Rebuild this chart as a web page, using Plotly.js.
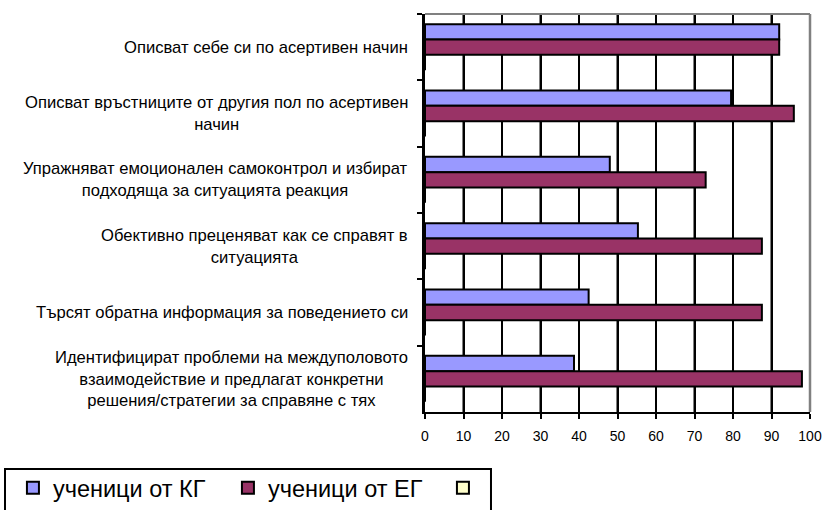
<!DOCTYPE html>
<html>
<head>
<meta charset="utf-8">
<script src="https://cdn.plot.ly/plotly-3.0.1.min.js"></script>
<style>
  html, body { margin: 0; padding: 0; background: #ffffff; }
  #chart { width: 824px; height: 510px; }
</style>
</head>
<body>
<div id="chart"></div>
<script>
// Categories (top to bottom)
var categories = [
  "Описват себе си по асертивен начин",
  "Описват връстниците от другия пол по асертивен<br>начин",
  "Упражняват емоционален самоконтрол и избират<br>подходяща за ситуацията реакция",
  "Обективно преценяват как се справят в<br>ситуацията",
  "Търсят обратна информация за поведението си",
  "Идентифицират проблеми на междуполовото<br>взаимодействие и предлагат конкретни<br>решения/стратегии за справяне с тях"
];
var seriesNames = ["ученици от КГ", "ученици от ЕГ", " "];
var valuesKG = [92, 79.5, 48, 55.3, 42.5, 38.7];
var valuesEG = [92, 95.8, 72.9, 87.5, 87.5, 97.9];
var valuesThird = [0, 0, 0, 0, 0, 0];
var xTickValues = [0, 10, 20, 30, 40, 50, 60, 70, 80, 90, 100];

var FONT = "Liberation Sans, Arial, sans-serif";
var colors = ["#9999FF", "#993366", "#FFFFCC"];
var allValues = [valuesKG, valuesEG, valuesThird];

var traces = allValues.map(function (vals, i) {
  return {
    type: "bar",
    orientation: "h",
    name: seriesNames[i],
    x: vals,
    y: categories,
    marker: { color: colors[i], line: { color: "#000000", width: 2 } },
    hoverinfo: "x+name"
  };
});

var annotations = categories.map(function (c) {
  return {
    xref: "paper", yref: "y",
    x: 0, y: c,
    xanchor: "right", yanchor: "middle",
    xshift: -15,
    text: c,
    align: "center",
    showarrow: false,
    font: { family: FONT, size: 16.6, color: "#000000" }
  };
});

// vertical gridlines drawn in data coordinates (inner tick values)
var gridShapes = xTickValues.filter(function (v) { return v > 0 && v < 100; }).map(function (v) {
  return { type: "line", xref: "x", yref: "paper", x0: v, x1: v, y0: 0, y1: 1,
           line: { color: "#000000", width: 2 }, layer: "below" };
});

var layout = {
  width: 824,
  height: 510,
  margin: { l: 425, r: 14, t: 14, b: 98, autoexpand: false },
  paper_bgcolor: "#ffffff",
  plot_bgcolor: "rgba(0,0,0,0)",
  barmode: "group",
  bargap: 0.306,
  bargroupgap: 0,
  font: { family: FONT, color: "#000000" },
  xaxis: {
    range: [0, 100],
    tickvals: xTickValues,
    ticktext: xTickValues.map(String),
    showgrid: true,
    gridcolor: "#000000",
    gridwidth: 2,
    zeroline: false,
    showline: true,
    linecolor: "#000000",
    linewidth: 2,
    ticks: "outside",
    ticklen: 5,
    tickwidth: 2,
    tickcolor: "#000000",
    ticklabelstandoff: 5,
    tickfont: { family: FONT, size: 14, color: "#000000" },
    fixedrange: true
  },
  yaxis: {
    type: "category",
    categoryorder: "array",
    categoryarray: categories,
    autorange: "reversed",
    showticklabels: false,
    showgrid: false,
    zeroline: false,
    showline: true,
    linecolor: "#000000",
    linewidth: 3,
    ticks: "outside",
    tickson: "boundaries",
    ticklen: 5,
    tickwidth: 2,
    tickcolor: "#000000",
    fixedrange: true
  },
  shapes: gridShapes.concat([
    { type: "line", xref: "paper", yref: "paper", x0: 0, x1: 1, y0: 1, y1: 1,
      line: { color: "#808080", width: 2 }, layer: "above" },
    { type: "line", xref: "paper", yref: "paper", x0: 1, x1: 1, y0: 0, y1: 1,
      line: { color: "#808080", width: 2.5 }, layer: "above" },
    { type: "rect", xref: "paper", yref: "paper", x0: -1.0909, x1: 0.1714, y0: -0.1432, y1: -0.3,
      line: { color: "#000000", width: 2 }, fillcolor: "rgba(0,0,0,0)", layer: "below" }
  ]),
  annotations: annotations,
  showlegend: true,
  legend: {
    orientation: "h",
    x: -1.0703, xanchor: "left",
    y: -0.1357, yanchor: "top",
    xref: "paper", yref: "paper",
    bgcolor: "rgba(0,0,0,0)",
    borderwidth: 0,
    font: { family: FONT, size: 23.5, color: "#000000" },
    entrywidth: 170,
    entrywidthmode: "pixels",
    traceorder: "normal"
  }
};

Plotly.newPlot("chart", traces, layout, { displayModeBar: false, staticPlot: true });
</script>
</body>
</html>
